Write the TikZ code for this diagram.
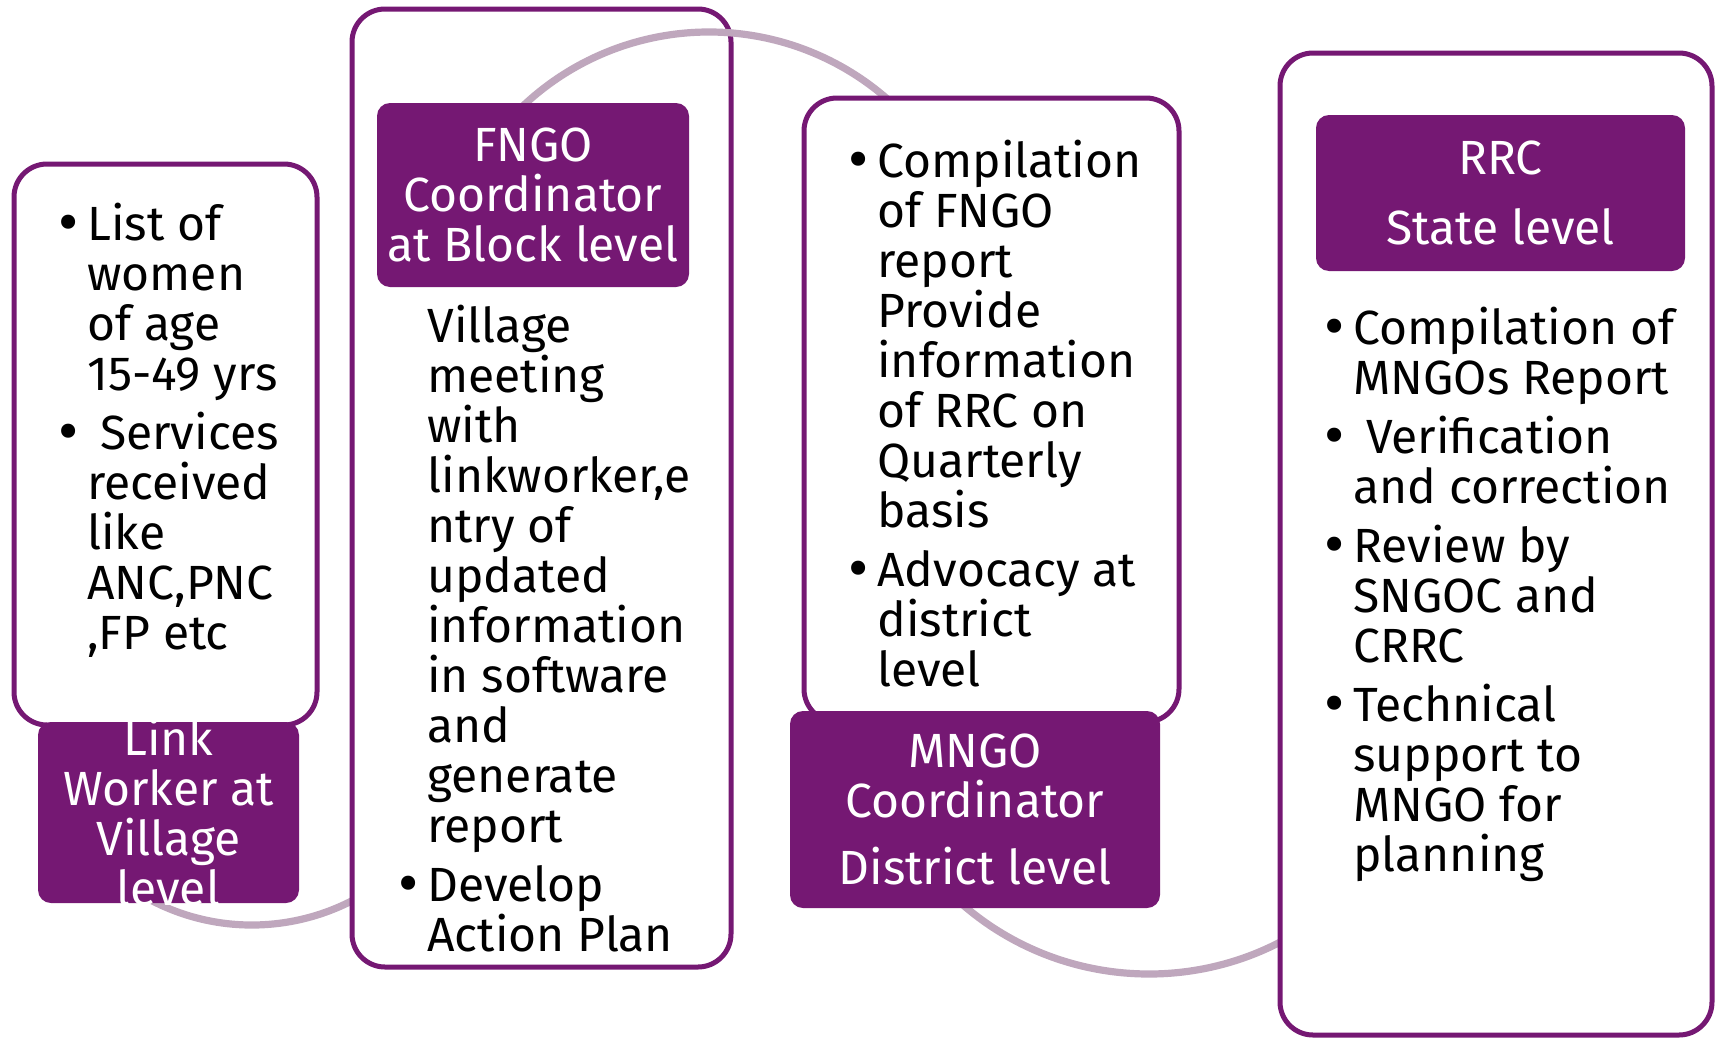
\documentclass[tikz,border=0pt]{standalone}
\usepackage{fontspec}
\setmainfont{Fira Sans}
\usetikzlibrary{positioning}
\definecolor{purp}{RGB}{117,24,115}
\definecolor{ringc}{RGB}{191,167,189}
\newcommand{\bul}{\makebox[14.5pt][l]{\raisebox{-0.07em}{\scalebox{1.3}{\textbullet}}}}
\newcommand{\ind}{\hspace*{14.5pt}}
\newcommand{\row}[1]{\hbox{#1}}
\newcommand{\gap}{\vskip4.5pt}

\begin{document}
\begin{tikzpicture}[x=0.5pt, y=-0.5pt,
    panel/.style={draw=purp, line width=2.5pt, fill=white, rounded corners=16.5pt, inner sep=0pt, outer sep=0pt},
    tag/.style={fill=purp, rounded corners=6.5pt, inner sep=0pt, outer sep=0pt},
    tagtext/.style={text=white, font=\fontsize{24}{25}\selectfont, align=center, inner sep=0pt},
    bodytext/.style={font=\fontsize{24}{25}\selectfont, anchor=base west, inner sep=0pt},
    ring/.style={draw=ringc, line width=3.6pt}]
    \useasboundingbox (0,0) rectangle (1715,1039);

    % village level
    \coordinate (hub1) at (252,707);
    \draw[ring] (hub1) ++(125:218) arc[start angle=125, end angle=-20, radius=218];
    \node[panel, minimum width=151.5pt, minimum height=280.5pt] (box1) at (165.5,444.5) {};
    \node[tag, minimum width=130.5pt, minimum height=90.5pt] (tag1) at (168.5,812.5) {};
    \node[tagtext] (tag1t) at (tag1.center) {Link\\Worker at\\Village\\level};
    \node[bodytext] (list1) at (58,240) {\vtop{
        \row{\bul List of}\row{\ind women}\row{\ind of age}\row{\ind 15-49 yrs}\gap
        \row{\bul\ Services}\row{\ind received}\row{\ind like}\row{\ind ANC,PNC}\row{\ind ,FP etc}}};

    % block level
    \node[panel, minimum width=189.5pt, minimum height=479pt] (box2) at (541.5,488) {};
    \coordinate (hub2) at (709,303);
    \draw[ring] (hub2) ++(-140:271) arc[start angle=-140, end angle=-30, radius=271];
    \node[tag, minimum width=156pt, minimum height=92pt] (tag2) at (533,195) {};
    \node[tagtext] (tag2t) at (tag2.center) {FNGO\\Coordinator\\at Block level};
    \node[bodytext] (list2) at (398,342) {\vtop{
        \row{\ind Village}\row{\ind meeting}\row{\ind with}\row{\ind linkworker,e}\row{\ind ntry of}
        \row{\ind updated}\row{\ind information}\row{\ind in software}\row{\ind and}
        \row{\ind generate}\row{\ind report}\gap
        \row{\bul Develop}\row{\ind Action Plan}}};

    % district level
    \node[panel, minimum width=187.5pt, minimum height=312pt] (box3) at (991.5,410) {};
    \coordinate (hub3) at (1149,689);
    \draw[ring] (hub3) ++(137:285) arc[start angle=137, end angle=5, radius=285];
    \node[tag, minimum width=185pt, minimum height=98.5pt] (tag3) at (975,809.5) {};
    \node[tagtext] (tag3t) at (tag3.center) {MNGO\\Coordinator\\[8.5pt]District level};
    \node[bodytext] (list3) at (848,177) {\vtop{
        \row{\bul Compilation}\row{\ind of FNGO}\row{\ind report}\row{\ind Provide}
        \row{\ind information}\row{\ind of RRC on}\row{\ind Quarterly}\row{\ind basis}\gap
        \row{\bul Advocacy at}\row{\ind district}\row{\ind level}}};

    % state level
    \node[panel, minimum width=216pt, minimum height=491pt] (box4) at (1496,544) {};
    \node[tag, minimum width=184.5pt, minimum height=78pt] (tag4) at (1500.5,193) {};
    \node[tagtext] (tag4t) at (tag4.center) {RRC\\[10pt]State level};
    \node[bodytext] (list4) at (1324,344) {\vtop{
        \row{\bul Compilation of}\row{\ind MNGOs Report}\gap
        \row{\bul\ Verification}\row{\ind and correction}\gap
        \row{\bul Review by}\row{\ind SNGOC and}\row{\ind CRRC}\gap
        \row{\bul Technical}\row{\ind support to}\row{\ind MNGO for}\row{\ind planning}}};
\end{tikzpicture}
\end{document}
